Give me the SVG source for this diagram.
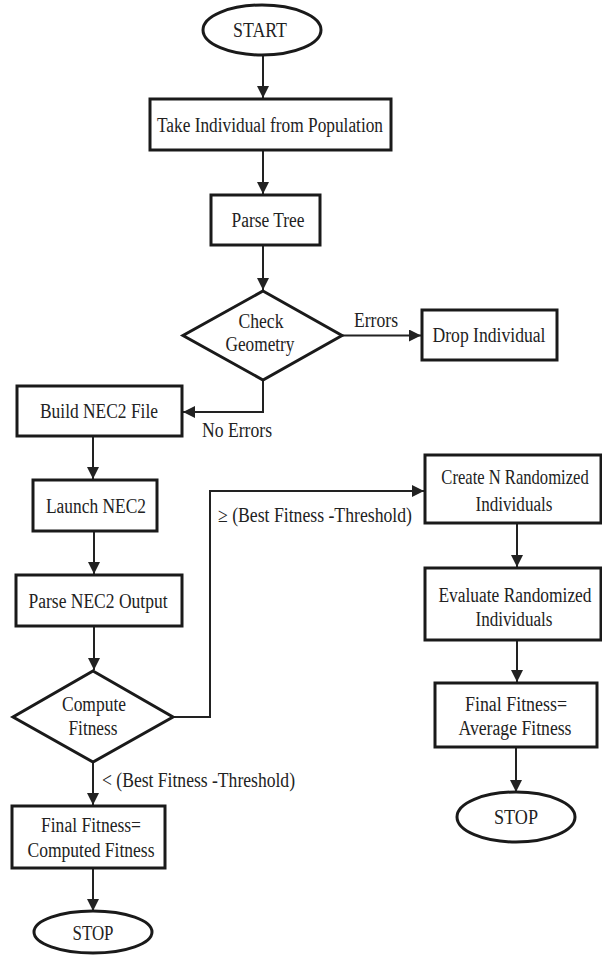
<svg xmlns="http://www.w3.org/2000/svg" width="602" height="962" viewBox="0 0 602 962">
<style>
.n{fill:#fff;stroke:#1a1a1a;stroke-width:3}
.t{font-family:"Liberation Serif","Times New Roman",serif;font-size:20px;fill:#222;text-anchor:middle}
.l{font-family:"Liberation Serif","Times New Roman",serif;font-size:20px;fill:#222}
.c{fill:none;stroke:#222;stroke-width:2}
</style>
<defs>
<marker id="ah" markerUnits="userSpaceOnUse" markerWidth="12" markerHeight="12" refX="12" refY="6" orient="auto">
<path d="M0,0 L12,6 L0,12 Z" fill="#222"/>
</marker>
</defs>
<rect width="602" height="962" fill="#fff"/>
<g id="connectors">
<path class="c" d="M263,55 V98" marker-end="url(#ah)"/>
<path class="c" d="M263,150 V194" marker-end="url(#ah)"/>
<path class="c" d="M263,245 V290" marker-end="url(#ah)"/>
<path class="c" d="M342,335.5 H421" marker-end="url(#ah)"/>
<path class="c" d="M263,380 V412 H183" marker-end="url(#ah)"/>
<path class="c" d="M93,436 V479" marker-end="url(#ah)"/>
<path class="c" d="M94,531 V574" marker-end="url(#ah)"/>
<path class="c" d="M94,626 V670" marker-end="url(#ah)"/>
<path class="c" d="M173,717 H210 V491 H424" marker-end="url(#ah)"/>
<path class="c" d="M93,762 V805" marker-end="url(#ah)"/>
<path class="c" d="M93,868 V911" marker-end="url(#ah)"/>
<path class="c" d="M517,523 V567" marker-end="url(#ah)"/>
<path class="c" d="M517,640 V682" marker-end="url(#ah)"/>
<path class="c" d="M516,747 V792" marker-end="url(#ah)"/>
<text class="l" x="354" y="327" textLength="44" lengthAdjust="spacingAndGlyphs">Errors</text>
<text class="l" x="202" y="437" textLength="70" lengthAdjust="spacingAndGlyphs">No Errors</text>
<text class="l" x="218" y="522" textLength="194" lengthAdjust="spacingAndGlyphs">≥ (Best Fitness -Threshold)</text>
<text class="l" x="102" y="787" textLength="193" lengthAdjust="spacingAndGlyphs">&lt; (Best Fitness -Threshold)</text>
</g>
<g id="start">
<ellipse class="n" cx="262" cy="30" rx="59" ry="25"/>
<text class="t" x="260" y="37" textLength="54" lengthAdjust="spacingAndGlyphs">START</text>
</g>
<g id="take">
<rect class="n" x="150" y="99" width="241" height="51"/>
<text class="t" x="270" y="132" textLength="226" lengthAdjust="spacingAndGlyphs">Take Individual from Population</text>
</g>
<g id="parsetree">
<rect class="n" x="211" y="195" width="109" height="50"/>
<text class="t" x="268" y="227" textLength="73" lengthAdjust="spacingAndGlyphs">Parse Tree</text>
</g>
<g id="check">
<polygon class="n" points="263,291 342,335.5 263,380 183,335.5"/>
<text class="t" x="261" y="328" textLength="45" lengthAdjust="spacingAndGlyphs">Check</text>
<text class="t" x="260" y="351" textLength="69" lengthAdjust="spacingAndGlyphs">Geometry</text>
</g>
<g id="drop">
<rect class="n" x="422" y="310" width="135" height="50"/>
<text class="t" x="489" y="342" textLength="113" lengthAdjust="spacingAndGlyphs">Drop Individual</text>
</g>
<g id="build">
<rect class="n" x="17" y="386" width="165" height="50"/>
<text class="t" x="99" y="418" textLength="118" lengthAdjust="spacingAndGlyphs">Build NEC2 File</text>
</g>
<g id="launch">
<rect class="n" x="33" y="480" width="124" height="51"/>
<text class="t" x="96" y="513" textLength="100" lengthAdjust="spacingAndGlyphs">Launch NEC2</text>
</g>
<g id="parseout">
<rect class="n" x="16" y="575" width="166" height="51"/>
<text class="t" x="98" y="608" textLength="139" lengthAdjust="spacingAndGlyphs">Parse NEC2 Output</text>
</g>
<g id="compute">
<polygon class="n" points="93,671 173,717 93,762 13,717"/>
<text class="t" x="94" y="711" textLength="64" lengthAdjust="spacingAndGlyphs">Compute</text>
<text class="t" x="93" y="735" textLength="49" lengthAdjust="spacingAndGlyphs">Fitness</text>
</g>
<g id="finalcomputed">
<rect class="n" x="12" y="806" width="153" height="62"/>
<text class="t" x="91" y="832" textLength="100" lengthAdjust="spacingAndGlyphs">Final Fitness=</text>
<text class="t" x="91" y="857" textLength="127" lengthAdjust="spacingAndGlyphs">Computed Fitness</text>
</g>
<g id="stop1">
<ellipse class="n" cx="93" cy="932" rx="59" ry="21"/>
<text class="t" x="93" y="940" textLength="41" lengthAdjust="spacingAndGlyphs">STOP</text>
</g>
<g id="create">
<rect class="n" x="425" y="455" width="176" height="68"/>
<text class="t" transform="translate(515,484) scale(0.83,1)" x="0" y="0">Create N Randomized</text>
<text class="t" x="514" y="511" textLength="77" lengthAdjust="spacingAndGlyphs">Individuals</text>
</g>
<g id="evaluate">
<rect class="n" x="425" y="568" width="176" height="72"/>
<text class="t" transform="translate(515,602) scale(0.87,1)" x="0" y="0">Evaluate Randomized</text>
<text class="t" x="514" y="626" textLength="77" lengthAdjust="spacingAndGlyphs">Individuals</text>
</g>
<g id="finalavg">
<rect class="n" x="435" y="683" width="162" height="64"/>
<text class="t" x="516" y="711" textLength="102" lengthAdjust="spacingAndGlyphs">Final Fitness=</text>
<text class="t" x="515" y="735" textLength="113" lengthAdjust="spacingAndGlyphs">Average Fitness</text>
</g>
<g id="stop2">
<ellipse class="n" cx="516" cy="817" rx="59" ry="25"/>
<text class="t" x="516" y="824" textLength="44" lengthAdjust="spacingAndGlyphs">STOP</text>
</g>
</svg>
